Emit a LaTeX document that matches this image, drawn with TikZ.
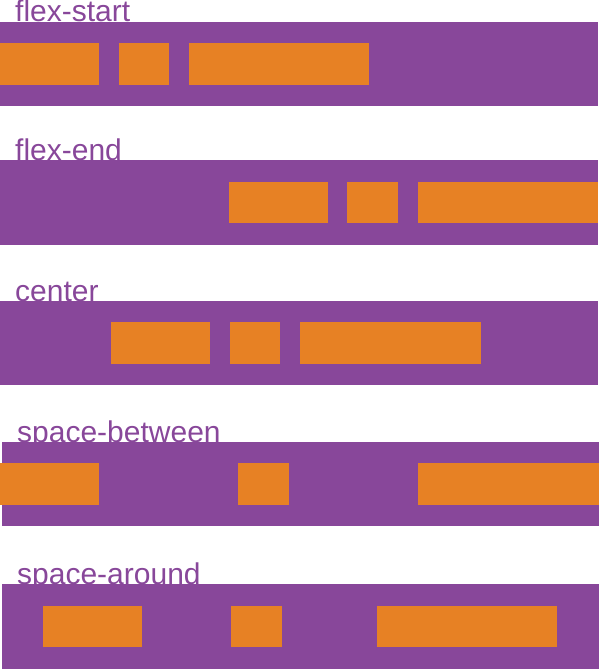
\documentclass[tikz,border=0pt]{standalone}
\usepackage{fontspec}
\setmainfont{Liberation Sans}
\definecolor{barpurple}{HTML}{88479A}
\definecolor{itemorange}{HTML}{E78124}
\begin{document}
\begin{tikzpicture}[x=1pt,y=-1pt,
  bar/.style={fill=barpurple},
  item/.style={fill=itemorange},
  lbl/.style={anchor=base west,inner sep=0pt,text=barpurple,font=\fontsize{30}{31}\selectfont}]
\useasboundingbox (0,0) rectangle (600,669);
% row 1
\node[lbl] (l1) at (15,22) {flex-start};
\fill[bar] (0,22) rectangle (598,106);
\fill[item] (0,43) rectangle (99,85);
\fill[item] (119,43) rectangle (169,85);
\fill[item] (189,43) rectangle (369,85);
% row 2
\node[lbl] (l2) at (15,160) {flex-end};
\fill[bar] (0,160) rectangle (598,245);
\fill[item] (229,182) rectangle (328,223);
\fill[item] (347,182) rectangle (398,223);
\fill[item] (418,182) rectangle (598,223);
% row 3
\node[lbl] (l3) at (15,301) {center};
\fill[bar] (0,301) rectangle (598,385);
\fill[item] (111,322) rectangle (210,364);
\fill[item] (230,322) rectangle (280,364);
\fill[item] (300,322) rectangle (481,364);
% row 4
\node[lbl] (l4) at (17,442) {space-between};
\fill[bar] (2,442) rectangle (599,526);
\fill[item] (0,463) rectangle (99,505);
\fill[item] (238,463) rectangle (289,505);
\fill[item] (418,463) rectangle (599,505);
% row 5
\node[lbl] (l5) at (17,584) {space-around};
\fill[bar] (2,584) rectangle (599,669);
\fill[item] (43,606) rectangle (142,647);
\fill[item] (231,606) rectangle (282,647);
\fill[item] (377,606) rectangle (557,647);
\end{tikzpicture}
\end{document}
